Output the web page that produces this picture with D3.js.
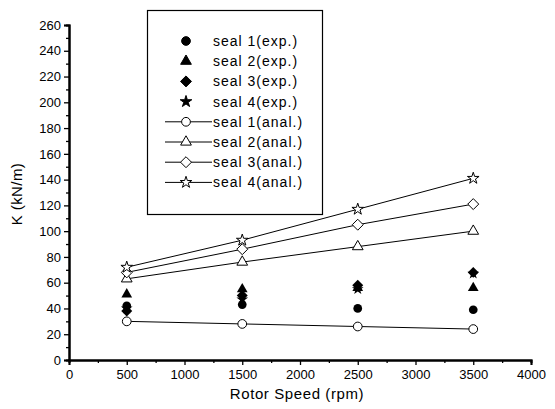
<!DOCTYPE html>
<html>
<head>
<meta charset="utf-8">
<script src="https://cdnjs.cloudflare.com/ajax/libs/d3/7.8.5/d3.min.js"></script>
<style>
body{margin:0;background:#fff}
svg{display:block;font-family:"Liberation Sans",Arial,sans-serif}
</style>
</head>
<body>
<div id="c"></div>
<script>
// rotor speeds (rpm)
const speeds = [500, 1500, 2500, 3500];
// experimental stiffness (kN/m)
const seal1Exp = [42, 43, 40, 39];
const seal2Exp = [51, 55, 56, 56];
const seal3Exp = [38, 50, 58, 68];
const seal4Exp = [40, 47, 55, 67];
// analytical stiffness (kN/m)
const seal1Anal = [30, 28, 26, 24];
const seal2Anal = [63, 76, 88, 100];
const seal3Anal = [68, 86, 105, 121];
const seal4Anal = [72, 93, 117, 141];
const xTicks = [0, 500, 1000, 1500, 2000, 2500, 3000, 3500, 4000];
const yTicks = d3.range(0, 261, 20);

const W = 555, H = 409;
const x = d3.scaleLinear().domain([0, 4000]).range([69, 531]);
const y = d3.scaleLinear().domain([0, 260]).range([360, 25]);

const svg = d3.select('#c').append('svg').attr('width', W).attr('height', H);

// axes
svg.append('g').attr('transform', 'translate(0,360)')
  .call(d3.axisBottom(x).tickValues(xTicks).tickSize(5).tickPadding(5).tickFormat(d3.format('d')));
svg.append('g').attr('transform', 'translate(0,360)')
  .call(d3.axisBottom(x).tickValues(d3.range(250, 4000, 500)).tickSize(3).tickFormat(''));
svg.append('g').attr('transform', 'translate(69,0)')
  .call(d3.axisLeft(y).tickValues(yTicks).tickSize(5).tickPadding(3));
svg.append('g').attr('transform', 'translate(69,0)')
  .call(d3.axisLeft(y).tickValues(d3.range(10, 260, 20)).tickSize(3).tickFormat(''));
svg.selectAll('.domain').attr('stroke', '#000').attr('stroke-width', 2);
svg.selectAll('.tick line').attr('stroke', '#000').attr('stroke-width', 1.3);
svg.selectAll('.tick text').attr('font-size', 13).attr('fill', '#000').attr('font-family', '"Liberation Sans",Arial,sans-serif');

svg.append('text').attr('x', 297).attr('y', 399).attr('text-anchor', 'middle')
  .attr('font-size', 15).attr('letter-spacing', 0.6).text('Rotor Speed (rpm)');
svg.append('text').attr('transform', 'translate(22,194) rotate(-90)').attr('text-anchor', 'middle')
  .attr('font-size', 15).attr('letter-spacing', 0.4).text('K (kN/m)');

const sqDiamond = {draw(ctx, size) {
  const r = Math.sqrt(size / 2);
  ctx.moveTo(0, -r); ctx.lineTo(r, 0); ctx.lineTo(0, r); ctx.lineTo(-r, 0); ctx.closePath();
}};
const sym = {
  circle: d3.symbol().type(d3.symbolCircle).size(60),
  triangle: d3.symbol().type(d3.symbolTriangle).size(50),
  diamond: d3.symbol().type(sqDiamond).size(60),
  star: d3.symbol().type(d3.symbolStar).size(42)
};

const exp = [
  {name: 'seal 1(exp.)', vals: seal1Exp, s: 'circle'},
  {name: 'seal 2(exp.)', vals: seal2Exp, s: 'triangle'},
  {name: 'seal 3(exp.)', vals: seal3Exp, s: 'diamond'},
  {name: 'seal 4(exp.)', vals: seal4Exp, s: 'star'}
];
const anal = [
  {name: 'seal 1(anal.)', vals: seal1Anal, s: 'circle'},
  {name: 'seal 2(anal.)', vals: seal2Anal, s: 'triangle'},
  {name: 'seal 3(anal.)', vals: seal3Anal, s: 'diamond'},
  {name: 'seal 4(anal.)', vals: seal4Anal, s: 'star'}
];

const line = d3.line().x((d, i) => x(speeds[i])).y(d => y(d));
anal.forEach(a => {
  svg.append('path').attr('d', line(a.vals)).attr('fill', 'none').attr('stroke', '#000').attr('stroke-width', 1);
  a.vals.forEach((v, i) => {
    svg.append('path').attr('d', sym[a.s]()).attr('transform', `translate(${x(speeds[i])},${y(v)})`)
      .attr('fill', '#fff').attr('stroke', '#000').attr('stroke-width', 1);
  });
});
exp.forEach(e => {
  e.vals.forEach((v, i) => {
    svg.append('path').attr('d', sym[e.s]()).attr('transform', `translate(${x(speeds[i])},${y(v)})`)
      .attr('fill', '#000');
  });
});

// legend
const lg = svg.append('g');
lg.append('rect').attr('x', 147.5).attr('y', 10.5).attr('width', 175).attr('height', 204)
  .attr('fill', '#fff').attr('stroke', '#000').attr('stroke-width', 1.2);
exp.concat(anal).forEach((d, i) => {
  const ly = 41 + i * 20.2;
  const isAnal = i >= 4;
  if (isAnal) lg.append('line').attr('x1', 165).attr('x2', 212).attr('y1', ly).attr('y2', ly).attr('stroke', '#000');
  lg.append('path').attr('d', sym[d.s]()).attr('transform', `translate(186,${ly})`)
    .attr('fill', isAnal ? '#fff' : '#000').attr('stroke', '#000').attr('stroke-width', 1);
  lg.append('text').attr('x', 213).attr('y', ly).attr('dy', '0.35em').attr('font-size', 14)
    .attr('letter-spacing', 1).text(d.name);
});
</script>
</body>
</html>
